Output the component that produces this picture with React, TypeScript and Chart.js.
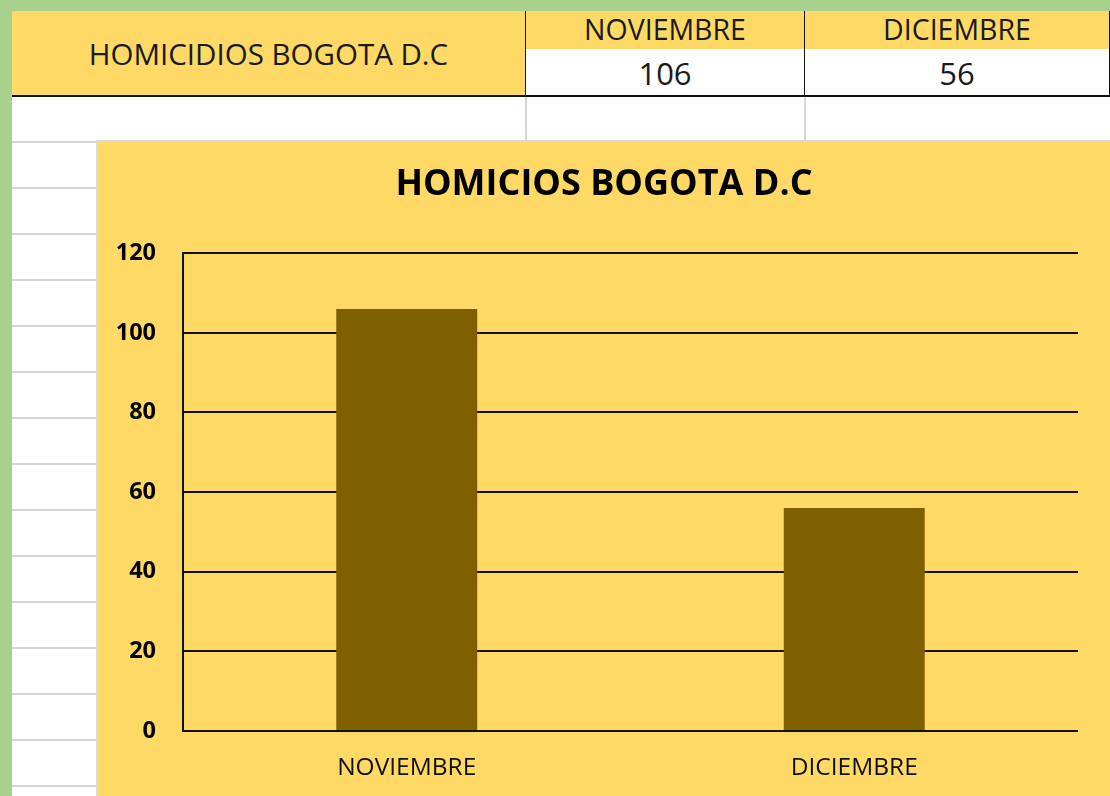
import React, { useEffect, useRef } from "react";
import { Chart, registerables } from "chart.js";

Chart.register(...registerables);

const categories: string[] = ["NOVIEMBRE", "DICIEMBRE"];
const values: number[] = [106, 56];
const yMin = 0;
const yMax = 120;
const yStep = 20;
const chartTitle = "HOMICIOS BOGOTA D.C";
const tableTitle = "HOMICIDIOS BOGOTA D.C";

const GREEN = "#A9D18E";
const YELLOW = "#FFD966";
const BAR = "#7F6000";
const FONT = "'Open Sans', 'Noto Sans', sans-serif";

function ChartBox() {
  const ref = useRef<HTMLCanvasElement | null>(null);
  useEffect(() => {
    if (!ref.current) return;
    const chart = new Chart(ref.current, {
      type: "bar",
      data: {
        labels: categories,
        datasets: [
          {
            data: values,
            backgroundColor: BAR,
            borderWidth: 0,
            barPercentage: 0.315,
            categoryPercentage: 1,
            yAxisID: "y",
          },
        ],
      },
      options: {
        animation: false,
        responsive: false,
        maintainAspectRatio: false,
        layout: { padding: { left: 0, right: 0, top: 0, bottom: 0 } },
        plugins: {
          legend: { display: false },
          tooltip: { enabled: false },
          title: {
            display: true,
            text: chartTitle,
            color: "#000",
            font: { family: FONT, size: 36, weight: "bold", lineHeight: 1.2 },
            padding: { top: 21, bottom: 47 },
          },
        },
        scales: {
          x: {
            grid: { display: false, drawTicks: false },
            border: { display: false },
            ticks: {
              color: "#111",
              padding: 22,
              maxRotation: 0,
              font: { family: FONT, size: 24.5 },
            },
            afterFit: (s: any) => {
              s.height = 65;
            },
          },
          y: {
            min: yMin,
            max: yMax,
            grid: { color: "#111", lineWidth: 2, drawTicks: false },
            border: { display: true, color: "#111", width: 2 },
            ticks: {
              stepSize: yStep,
              color: "#000",
              padding: 27,
              font: { family: FONT, size: 23.5, weight: "bold" },
            },
            afterFit: (s: any) => {
              s.width = 85;
            },
          },
          yRightSpace: {
            position: "right",
            display: true,
            grid: { display: false, drawTicks: false },
            border: { display: false },
            ticks: { display: false },
            afterFit: (s: any) => {
              s.width = 32;
            },
          },
        },
      },
    });
    return () => chart.destroy();
  }, []);
  return <canvas ref={ref} width={1012} height={654} style={{ display: "block" }} />;
}

const cell = (extra: React.CSSProperties): React.CSSProperties => ({
  position: "absolute",
  boxSizing: "border-box",
  display: "flex",
  alignItems: "center",
  justifyContent: "center",
  fontFamily: FONT,
  fontSize: 29.5,
  color: "#1a1a1a",
  ...extra,
});

export default function App() {
  const colX = [526, 805, 1110];
  return (
    <div
      style={{
        position: "fixed",
        left: 0,
        top: 0,
        width: 1110,
        height: 796,
        background: GREEN,
        overflow: "hidden",
      }}
    >
      {/* sheet */}
      <div
        style={{
          position: "absolute",
          left: 12,
          top: 11,
          width: 1098,
          height: 785,
          background: "#fff",
        }}
      />
      {/* left column row gridlines */}
      <div
        style={{
          position: "absolute",
          left: 12,
          top: 97,
          width: 90,
          height: 700,
          background:
            "repeating-linear-gradient(to bottom, transparent 0px, transparent 44px, #d6d6d6 44px, #d6d6d6 46px)",
        }}
      />
      {/* vertical gray gridlines in row 3 */}
      {colX.slice(0, 2).map((x) => (
        <div
          key={x}
          style={{ position: "absolute", left: x - 1, top: 96, width: 2, height: 46, background: "#d6d6d6" }}
        />
      ))}
      {/* table title cell */}
      <div
        style={cell({
          left: 12,
          top: 11,
          width: 515,
          height: 86,
          background: YELLOW,
          borderRight: "2px solid #111",
          borderBottom: "2px solid #111",
        })}
      >
        {tableTitle}
      </div>
      {categories.map((c, i) => (
        <React.Fragment key={c}>
          <div
            style={cell({
              left: colX[i],
              top: 11,
              width: colX[i + 1] - colX[i] + 1,
              height: 40,
              background: YELLOW,
              borderRight: "2px solid #111",
              borderBottom: "2px solid #111",
              fontSize: 28.5,
              paddingBottom: 3,
            })}
          >
            {c}
          </div>
          <div
            style={cell({
              left: colX[i],
              top: 49,
              width: colX[i + 1] - colX[i] + 1,
              height: 48,
              background: "#fff",
              borderRight: "2px solid #111",
              borderBottom: "2px solid #111",
              fontSize: 31,
              paddingTop: 2,
            })}
          >
            {values[i]}
          </div>
        </React.Fragment>
      ))}
      {/* chart */}
      <div
        style={{
          position: "absolute",
          left: 96,
          top: 140,
          width: 1014,
          height: 656,
          boxSizing: "border-box",
          borderLeft: "2px solid #d9d9d9",
          borderTop: "2px solid #d9d9d9",
          background: YELLOW,
        }}
      >
        <ChartBox />
      </div>
    </div>
  );
}
